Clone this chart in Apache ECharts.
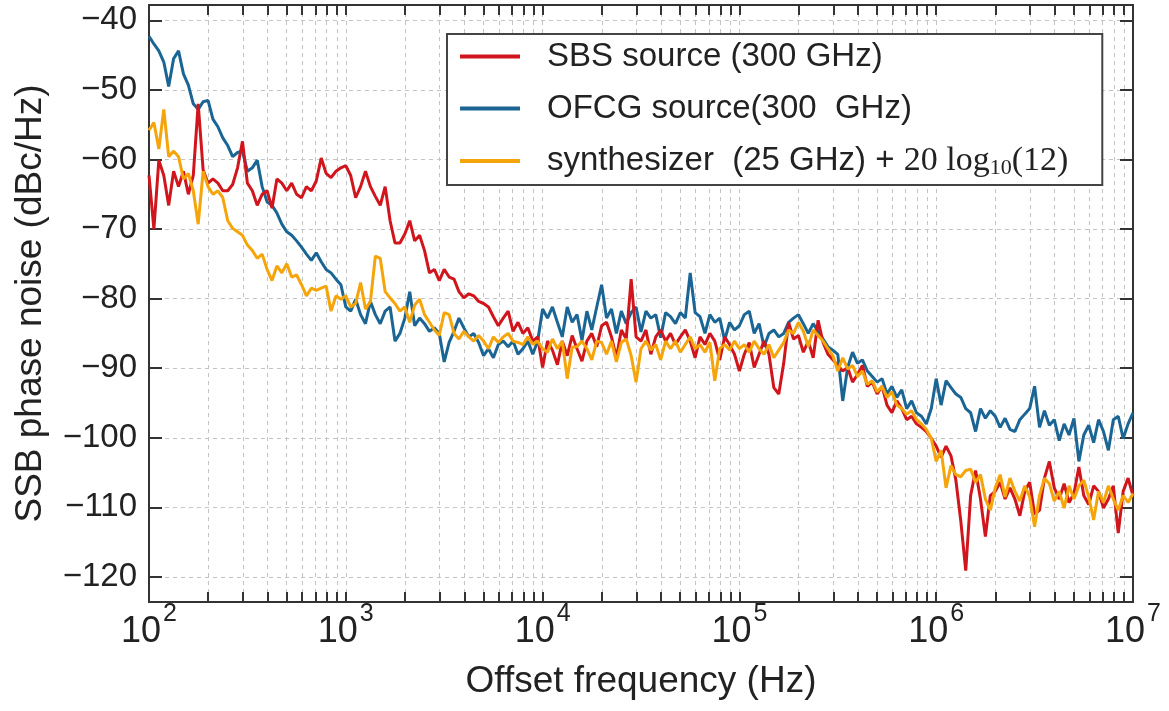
<!DOCTYPE html>
<html>
<head>
<meta charset="utf-8">
<script src="https://cdn.jsdelivr.net/npm/echarts@6/dist/echarts.min.js"></script>
<style>
html,body{margin:0;padding:0;background:#fff;}
#chart{width:1169px;height:711px;}
</style>
</head>
<body>
<div id="chart"></div>
<script>
// ---- sampling grid: 40 log-spaced points per decade ----
const mantissa = [1.000, 1.059, 1.122, 1.189, 1.259, 1.334, 1.413, 1.496, 1.585, 1.679,
  1.778, 1.884, 1.995, 2.113, 2.239, 2.371, 2.512, 2.661, 2.818, 2.985,
  3.162, 3.350, 3.548, 3.758, 3.981, 4.217, 4.467, 4.732, 5.012, 5.309,
  5.623, 5.957, 6.310, 6.683, 7.079, 7.499, 7.943, 8.414, 8.913, 9.441];
const decadeStarts = [100, 1000, 10000, 100000, 1000000];
const lastFreq = 10000000;

// ---- SSB phase noise values (dBc/Hz) ----
const sbsSource = [
  -62.3, -70.0, -60.1, -62.3, -66.6, -61.7, -63.9, -61.7, -65.0, -62.3,
  -52.0, -61.5, -63.4, -62.8, -63.4, -64.5, -64.5, -63.6, -61.2, -57.4,
  -63.4, -64.5, -66.6, -65.0, -64.5, -67.0, -62.8, -63.4, -64.5, -63.4,
  -65.0, -65.5, -63.9, -64.5, -63.1, -59.8, -62.0, -62.6, -61.7, -61.2,
  -60.9, -62.3, -65.5, -63.9, -61.7, -63.9, -65.3, -66.6, -63.9, -68.8,
  -72.0, -72.0, -70.7, -68.8, -71.7, -70.9, -73.1, -76.3, -75.8, -77.4,
  -75.8, -76.9, -77.2, -79.0, -79.9, -79.3, -79.6, -80.4, -80.7, -81.2,
  -82.6, -83.9, -82.8, -81.8, -84.7, -83.4, -85.0, -84.2, -86.1, -85.5,
  -89.9, -86.1, -87.4, -89.5, -86.1, -88.2, -85.3, -87.2, -89.0, -86.1,
  -85.0, -86.9, -83.9, -83.4, -85.5, -88.5, -84.5, -85.8, -77.2, -85.5,
  -86.1, -84.5, -88.0, -85.5, -84.5, -86.1, -85.0, -86.6, -85.5, -84.5,
  -86.1, -88.5, -85.5, -86.6, -85.0, -86.1, -88.8, -85.5, -86.6, -88.0,
  -90.4, -88.0, -86.3, -89.9, -88.0, -86.1, -88.0, -92.8, -93.7, -89.3,
  -83.4, -85.8, -85.3, -87.7, -86.1, -88.5, -83.1, -86.3, -88.0, -88.8,
  -89.6, -90.4, -89.9, -92.0, -90.9, -89.6, -92.6, -92.0, -93.7, -92.6,
  -95.3, -96.4, -94.7, -95.8, -97.4, -96.9, -98.0, -98.5, -99.1, -100.1,
  -101.2, -102.8, -101.2, -102.6, -106.1, -112.0, -119.1, -108.3, -104.7, -108.8,
  -114.2, -108.3, -107.7, -106.4, -108.8, -107.2, -108.8, -111.2, -107.7, -106.4,
  -111.0, -110.4, -105.8, -103.4, -107.2, -108.8, -106.6, -109.3, -108.0, -104.2,
  -108.3, -109.6, -106.9, -107.7, -110.1, -108.8, -106.9, -113.7, -107.7, -105.8,
  -108.3];
const ofcgSource = [
  -42.3, -43.4, -44.4, -46.0, -49.5, -45.5, -44.4, -47.7, -49.3, -52.0,
  -52.8, -51.7, -51.5, -54.2, -55.3, -56.9, -58.0, -59.6, -59.0, -58.8,
  -61.7, -61.2, -60.1, -63.9, -66.1, -66.6, -67.7, -69.3, -70.4, -70.9,
  -71.7, -72.6, -73.6, -74.5, -73.4, -74.7, -75.8, -76.3, -77.2, -78.0,
  -81.2, -81.8, -80.1, -82.3, -83.6, -80.4, -82.3, -83.6, -81.8, -81.2,
  -86.1, -85.0, -82.8, -79.0, -83.9, -82.8, -83.6, -84.7, -84.2, -85.0,
  -89.1, -86.3, -84.7, -82.8, -84.2, -85.5, -85.0, -86.3, -88.2, -87.2,
  -88.5, -86.6, -86.1, -86.9, -86.1, -88.0, -87.2, -86.1, -88.0, -86.1,
  -81.5, -82.8, -81.2, -83.4, -85.5, -81.2, -83.4, -82.3, -86.0, -81.8,
  -84.5, -81.2, -78.0, -82.8, -81.5, -85.0, -81.8, -83.6, -82.0, -81.2,
  -84.8, -81.8, -82.8, -82.3, -85.6, -82.0, -82.6, -83.6, -82.0, -82.8,
  -76.3, -82.0, -82.6, -85.0, -82.3, -83.4, -82.8, -86.0, -83.4, -84.5,
  -83.9, -82.3, -81.8, -85.0, -83.6, -86.9, -85.0, -84.5, -85.5, -85.0,
  -83.4, -82.8, -82.3, -83.6, -85.0, -83.6, -84.7, -85.8, -86.9, -87.4,
  -88.0, -94.7, -89.9, -87.7, -89.3, -88.8, -90.4, -91.2, -92.0, -91.5,
  -93.7, -92.6, -94.2, -93.1, -95.8, -94.7, -96.4, -96.9, -98.0, -95.8,
  -91.5, -95.3, -91.8, -92.8, -93.7, -94.2, -95.8, -96.4, -99.1, -95.8,
  -97.2, -96.1, -96.9, -98.5, -97.2, -98.8, -99.1, -97.4, -96.6, -95.8,
  -92.6, -98.5, -96.1, -98.2, -97.4, -100.4, -98.0, -99.6, -97.2, -103.4,
  -99.6, -98.2, -100.7, -97.4, -99.1, -101.8, -97.4, -96.9, -100.1, -98.0,
  -96.4];
const synthesizer = [
  -55.8, -54.7, -58.5, -52.8, -59.6, -58.8, -59.6, -62.8, -62.0, -64.5,
  -69.3, -61.7, -63.9, -65.0, -64.5, -65.5, -68.8, -69.9, -70.4, -70.9,
  -72.3, -73.1, -74.2, -73.6, -75.8, -77.4, -75.3, -76.3, -75.0, -76.9,
  -76.6, -78.0, -79.6, -78.5, -78.8, -78.5, -78.2, -81.8, -79.6, -80.1,
  -79.6, -81.2, -80.7, -77.7, -81.5, -80.4, -73.9, -74.2, -79.0, -79.9,
  -80.7, -81.8, -81.2, -83.4, -80.9, -80.1, -82.3, -83.4, -84.5, -85.3,
  -82.0, -82.3, -85.0, -85.8, -84.7, -85.5, -86.1, -85.3, -86.1, -87.2,
  -85.5, -86.3, -85.5, -85.0, -86.1, -86.3, -86.6, -85.5, -86.6, -86.1,
  -87.2, -87.7, -85.8, -87.2, -86.1, -91.5, -87.0, -86.9, -86.1, -87.2,
  -88.8, -86.1, -86.3, -88.0, -86.1, -89.1, -86.3, -85.8, -88.2, -92.0,
  -87.2, -86.1, -87.4, -86.6, -88.8, -86.1, -87.2, -86.1, -87.7, -86.6,
  -85.5, -87.2, -86.6, -87.7, -86.3, -91.8, -87.2, -86.6, -87.4, -86.1,
  -87.2, -86.6, -87.7, -86.1, -87.2, -88.0, -86.6, -88.5, -87.4, -86.3,
  -84.5, -85.0, -83.4, -84.7, -86.9, -84.5, -85.3, -86.1, -87.2, -88.2,
  -90.4, -88.5, -90.1, -89.6, -91.2, -90.4, -92.3, -91.8, -93.4, -92.6,
  -94.2, -93.4, -95.3, -95.8, -96.6, -96.1, -97.4, -98.0, -98.8, -100.1,
  -103.4, -101.8, -107.2, -104.0, -105.3, -105.6, -104.7, -104.5, -106.4, -105.3,
  -108.8, -110.4, -107.2, -105.3, -108.5, -105.8, -107.7, -109.1, -106.9, -108.5,
  -112.8, -108.3, -105.8, -106.6, -109.1, -107.7, -110.1, -106.9, -108.8, -106.9,
  -106.1, -108.5, -111.8, -107.7, -109.3, -106.9, -108.8, -110.4, -108.3, -109.3,
  -108.0];

// ---- axes / labels ----
const xMultipliers = [1, 2, 3, 4, 5, 6, 7, 8, 9];
const xDecadeLabels = [100, 1000, 10000, 100000, 1000000, 10000000];
const yTickValues = [-120, -110, -100, -90, -80, -70, -60, -50, -40];
const seriesNames = ['SBS source (300 GHz)', 'OFCG source(300  GHz)', 'synthesizer  (25 GHz) + 20 log10(12)'];
const seriesColors = ['#d0161c', '#1a6594', '#f5a50a'];

// ---- build tables ----
const freq = [];
decadeStarts.forEach(d => mantissa.forEach(m => freq.push(+(d * m).toPrecision(4))));
freq.push(lastFreq);
const toPairs = arr => freq.map((f, i) => [f, arr[i]]);
const xTicks = [];
decadeStarts.forEach(d => xMultipliers.forEach(m => xTicks.push(d * m)));
xTicks.push(lastFreq);

const FONT = '"Liberation Sans", Arial, Helvetica, sans-serif';
const SERIF = '"Liberation Serif", "DejaVu Serif", serif';
const frameColor = '#333';
const gridLine = {show: true, lineStyle: {type: [4, 4], color: '#c4c4c4', width: 1}};

const chart = echarts.init(document.getElementById('chart'), null, {renderer: 'canvas'});
const xBase = {
  type: 'log', logBase: 10, min: 100, max: 10000000,
  axisLine: {show: true, onZero: false, lineStyle: {color: frameColor, width: 2}},
  axisTick: {show: true, inside: true, length: 10, customValues: xTicks, lineStyle: {color: frameColor, width: 2}},
  minorTick: {show: false}
};
const yBase = {
  type: 'value', min: -123.6, max: -37.8, splitNumber: 9,
  axisLine: {show: true, onZero: false, lineStyle: {color: frameColor, width: 2}},
  axisTick: {show: true, inside: true, length: 13, customValues: yTickValues, lineStyle: {color: frameColor, width: 2}}
};
chart.setOption({
  animation: false,
  backgroundColor: '#fff',
  grid: {left: 149, right: 36, top: 5, bottom: 109, show: false},
  xAxis: [
    Object.assign({}, xBase, {
      position: 'bottom',
      name: 'Offset frequency (Hz)', nameLocation: 'middle', nameGap: 61,
      nameTextStyle: {fontFamily: FONT, fontSize: 37, color: '#222'},
      axisLabel: {
        customValues: xDecadeLabels, margin: 0,
        formatter: v => '{b|10}{e|' + Math.round(Math.log10(v)) + '}',
        rich: {
          b: {fontFamily: FONT, fontSize: 36, color: '#222'},
          e: {fontFamily: FONT, fontSize: 25, color: '#222', padding: [0, 0, 35, 2]}
        }
      },
      splitLine: gridLine
    }),
    Object.assign({}, xBase, {
      position: 'top', axisLabel: {show: false}, splitLine: {show: false}
    })
  ],
  yAxis: [
    Object.assign({}, yBase, {
      position: 'left',
      name: 'SSB phase noise (dBc/Hz)', nameLocation: 'middle', nameGap: 100,
      nameTextStyle: {fontFamily: FONT, fontSize: 37, color: '#222'},
      axisLabel: {
        customValues: yTickValues, margin: 12,
        fontFamily: FONT, fontSize: 33, color: '#222',
        formatter: v => '\u2212' + Math.abs(v)
      },
      splitLine: gridLine
    }),
    Object.assign({}, yBase, {
      position: 'right', axisLabel: {show: false}, splitLine: {show: false}
    })
  ],
  legend: {
    data: seriesNames,
    orient: 'vertical', left: 447, top: 34,
    icon: 'rect', itemWidth: 60, itemHeight: 4, itemGap: 19,
    padding: [6, 34, 6, 13],
    backgroundColor: '#fff', borderColor: '#444', borderWidth: 2, borderRadius: 0,
    formatter: name => name === seriesNames[2]
      ? '{t|synthesizer  (25 GHz) + }{m|20 log}{s|10}{m|(12)}'
      : name,
    textStyle: {
      fontFamily: FONT, fontSize: 33, color: '#222', padding: [0, 0, 0, 22],
      rich: {
        t: {fontFamily: FONT, fontSize: 33, color: '#222'},
        m: {fontFamily: SERIF, fontSize: 34, color: '#222'},
        s: {fontFamily: SERIF, fontSize: 22, color: '#222', padding: [14, 0, 0, 0]}
      }
    }
  },
  series: [
    {name: seriesNames[1], type: 'line', data: toPairs(ofcgSource), symbol: 'none',
     lineStyle: {width: 3, color: seriesColors[1]}, itemStyle: {color: seriesColors[1]}, z: 2},
    {name: seriesNames[0], type: 'line', data: toPairs(sbsSource), symbol: 'none',
     lineStyle: {width: 3, color: seriesColors[0]}, itemStyle: {color: seriesColors[0]}, z: 3},
    {name: seriesNames[2], type: 'line', data: toPairs(synthesizer), symbol: 'none',
     lineStyle: {width: 3, color: seriesColors[2]}, itemStyle: {color: seriesColors[2]}, z: 4}
  ]
});
</script>
</body>
</html>
